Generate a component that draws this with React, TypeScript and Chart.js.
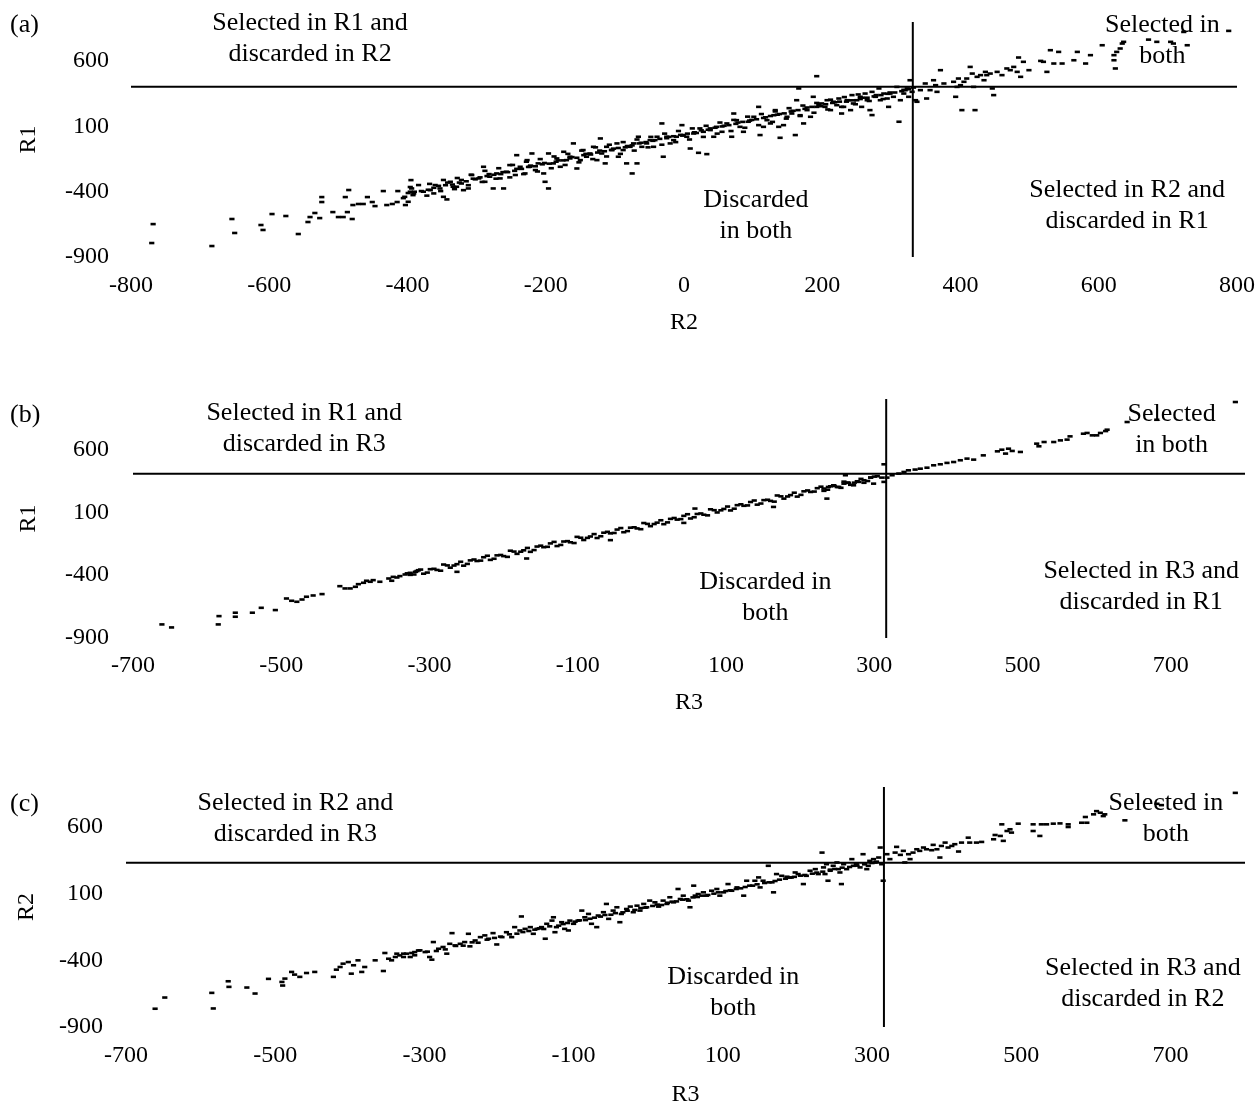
import React, { useEffect, useRef } from "react";
import { Chart, registerables } from "chart.js";

Chart.register(...registerables);

const FONT = '"Liberation Serif", "Times New Roman", Times, serif';

// Thresholds (cut-off lines)
const R1_CUT = 405;
const R2_CUT = 331;
const R3_CUT = 316;

// Tick labels
const xTicksA = [-800, -600, -400, -200, 0, 200, 400, 600, 800];
const xTicksBC = [-700, -500, -300, -100, 100, 300, 500, 700];
const yTicks = [-900, -400, 100, 600];

// Panel (a): [R2, R1]
const ptsA: [number, number][] = [
  [-768,-648],[-770,-793],[-683,-816],[-654,-609],[-650,-716],[-612,-655],[-609,-693],[-596,-571],[-576,-586],[-558,-724],
  [-544,-632],[-541,-594],[-534,-563],[-527,-602],[-524,-479],[-524,-441],[-508,-556],[-500,-594],[-493,-594],[-487,-556],
  [-480,-609],[-490,-441],[-485,-387],[-479,-502],[-471,-494],[-464,-494],[-458,-441],[-451,-479],[-447,-510],[-435,-395],
  [-430,-502],[-422,-494],[-415,-479],[-414,-395],[-406,-449],[-403,-502],[-399,-410],[-396,-364],[-392,-426],[-395,-311],
  [-404,-439],[-396,-400],[-394,-375],[-399,-477],[-391,-413],[-384,-349],[-377,-400],[-367,-388],[-362,-413],[-360,-349],
  [-353,-375],[-348,-439],[-343,-459],[-338,-324],[-334,-362],[-329,-362],[-322,-337],[-319,-388],[-312,-375],[-307,-272],
  [-297,-298],[-290,-209],[-288,-324],[-281,-285],[-276,-375],[-271,-260],[-266,-298],[-261,-375],[-257,-247],[-252,-196],
  [-244,-272],[-242,-120],[-237,-209],[-230,-260],[-227,-158],[-223,-209],[-220,-107],[-215,-234],[-211,-183],[-203,-260],
  [-201,-324],[-196,-375],[-196,-107],[-189,-183],[-184,-145],[-179,-209],[-174,-94],[-170,-158],[-165,-132],[-160,-30],
  [-155,-222],[-150,-158],[-146,-81],[-141,-132],[-136,-107],[-131,-56],[-126,-158],[-121,8],[-119,-107],[-114,-183],
  [-112,-56],[-104,-81],[-97,-30],[-95,-132],[-88,-81],[-83,-183],[-78,-56],[-75,-260],[-73,-30],[-68,-183],
  [-66,21],[-61,-56],[-54,-30],[-49,-5],[-44,-56],[-39,21],[-32,123],[-30,-132],[-25,21],[-20,-30],
  [-15,-5],[-11,21],[-3,110],[-1,34],[4,21],[9,-69],[14,46],[21,-102],[23,85],[28,59],
  [33,-112],[38,72],[43,21],[47,97],[55,59],[62,123],[69,21],[72,199],[76,148],[81,97],
  [86,59],[93,136],[101,174],[108,250],[110,34],[115,97],[120,148],[125,123],[130,186],[132,225],
  [137,97],[139,13],[144,110],[149,174],[156,199],[161,34],[163,301],[166,391],[168,186],[173,123],
  [178,225],[183,174],[187,327],[192,485],[192,250],
  [199,276],[204,250],[207,301],[212,225],[216,289],[221,263],[224,314],[228,199],[231,250],[236,301],
  [241,225],[243,340],[245,276],[250,301],[255,327],[257,250],[262,352],[265,301],[269,225],[272,187],
  [277,327],[282,391],[284,301],[289,352],[294,314],[296,250],[298,352],[303,327],[308,403],[311,136],
  [313,301],[318,352],[320,378],[323,391],[325,327],[327,454],[330,365],[332,398],[335,301],[337,289],
  [342,378],[349,429],[351,314],[356,378],[361,454],[364,416],[366,365],[371,531],[376,429],[390,442],
  [393,327],[395,403],[397,467],[400,416],[402,225],[405,442],[409,467],[414,556],[417,505],[419,403],
  [421,225],[424,480],[429,493],[434,454],[436,518],[438,493],[443,505],[446,391],[448,340],[453,518],
  [460,493],[467,544],[472,531],[477,556],[482,518],[484,628],[487,480],[491,595],[499,531],[516,602],
  [520,595],[525,518],[530,684],[535,582],[542,671],[547,582],[564,607],[569,671],[581,582],[588,646],
  [605,722],[622,646],[622,607],[624,544],[626,671],[631,697],[634,735],[636,748],[672,765],[684,748],
  [704,748],[708,735],[723,824],[728,722],[788,832],
  [-390,-400],[-380,-395],[-370,-385],[-355,-355],[-345,-350],[-335,-345],[-325,-330],[-315,-320],[-305,-300],[-295,-290],
  [-285,-280],[-275,-270],[-265,-265],[-255,-250],[-245,-240],[-235,-225],[-225,-210],[-215,-205],[-205,-190],[-195,-185],
  [-185,-170],[-175,-160],[-165,-145],[-155,-140],[-145,-120],[-135,-115],[-125,-100],[-115,-90],[-105,-80],[-95,-65],
  [-85,-60],[-75,-45],[-65,-30],[-55,-20],[-45,-10],[-35,5],[-25,10],[-15,25],[-5,35],[5,45],
  [15,55],[25,70],[35,75],[45,90],[55,100],[65,110],[75,120],[85,135],[95,145],[105,155],
  [115,165],[125,180],[135,190],[145,200],[155,215],[165,225],[175,235],[185,250],[195,265],[205,270],
  [215,280],[225,290],[235,290],[245,300],[255,310],[265,320],[275,330],[285,340],[295,350],[305,360],
  [315,370],[325,385],
  [-362,-370],[-342,-330],[-322,-310],[-302,-305],[-282,-265],[-262,-250],[-242,-225],[-222,-200],[-202,-180],[-182,-160],
  [-162,-135],[-142,-110],[-122,-85],[-102,-70],[-82,-50],[-62,-25],[-42,-5],[-22,20],[-2,30],[18,50],
  [38,85],[58,105],[78,130],[98,150],[118,170],[138,195],[158,220],[178,245],[198,255],[218,285],
  [238,300],[258,320],[278,340],[298,360],[318,380],
  [-372,-430],[-352,-395],[-332,-380],[-312,-350],[-292,-325],[-272,-300],[-252,-290],[-232,-265],[-212,-245],[-192,-220],
  [-172,-195],[-152,-175],[-132,-150],[-112,-130],[-92,-110],[-72,-85],[-52,-60],[-32,-40],[-12,-20],[8,0],
  [28,20],[48,45],[68,65],[88,90],[108,110],[128,135],[148,160],[168,180],[188,205],[208,230],
  [228,250],[248,270],[268,295],[288,310],
  [-368,-340],[-348,-310],[-328,-295],[-308,-270],[-288,-240],[-268,-220],[-248,-195],[-228,-170],[-208,-150],[-188,-130],
  [-168,-110],[-148,-85],[-128,-60],[-108,-40],[-88,-20],[-68,0],[-48,20],[-28,45],[-8,65],[12,85],
  [32,105],[52,130],[72,150],[92,175],[112,195],[132,215],[152,240],[172,260],[192,280],[212,305],
  [232,325],[252,345],[272,365],
];

// Panel (b): [R3, R1]
const ptsB: [number, number][] = [
  [-661,-792],[-648,-816],[-584,-726],[-585,-792],[-562,-699],[-562,-731],[-539,-699],[-527,-660],[-508,-678],[-493,-586],
  [-486,-604],[-479,-612],[-472,-594],[-466,-572],[-457,-562],[-445,-551],[-421,-488],[-414,-506],[-407,-506],[-400,-493],
  [-396,-472],[-389,-461],[-385,-445],[-380,-453],[-376,-440],[-367,-453],[-355,-427],[-351,-445],[-349,-414],[-344,-419],
  [-340,-408],[-333,-395],[-326,-382],[-319,-374],[-315,-361],
  [-330,-386],[-321,-395],[-312,-356],[-303,-380],[-294,-350],[-285,-365],[-276,-323],[-267,-324],[-258,-294],[-249,-311],
  [-240,-276],[-231,-285],[-222,-246],[-213,-270],[-204,-240],[-195,-255],[-186,-213],[-177,-214],[-168,-184],[-159,-201],
  [-150,-166],[-141,-175],[-132,-136],[-123,-160],[-114,-130],[-105,-145],[-96,-103],[-87,-104],[-78,-74],[-69,-91],
  [-60,-56],[-51,-65],[-42,-26],[-33,-50],[-24,-20],[-15,-35],[-6,7],[3,6],[12,36],[21,19],
  [30,54],[39,45],[48,84],[57,60],[66,90],[75,75],[84,116],[93,115],[102,145],[111,128],
  [120,163],[129,154],[138,193],[147,169],[156,199],[165,184],[174,226],[183,225],[192,255],[201,238],
  [210,273],[219,264],[228,303],[237,279],[246,309],[255,294],[264,336],[273,335],[282,365],[291,348],
  [300,383],
  [-326,-398],[-317,-368],[-308,-389],[-299,-353],[-290,-359],[-281,-316],[-272,-341],[-263,-313],[-254,-325],[-245,-283],
  [-236,-288],[-227,-258],[-218,-279],[-209,-243],[-200,-249],[-191,-206],[-182,-231],[-173,-203],[-164,-215],[-155,-173],
  [-146,-178],[-137,-148],[-128,-169],[-119,-133],[-110,-139],[-101,-96],[-92,-121],[-83,-93],[-74,-105],[-65,-63],
  [-56,-68],[-47,-38],[-38,-59],[-29,-23],[-20,-29],[-11,14],[-2,-11],[7,17],[16,5],[25,47],
  [34,41],[43,71],[52,50],[61,86],[70,80],[79,123],[88,98],[97,126],[106,114],[115,156],
  [124,151],[133,181],[142,160],[151,196],[160,190],[169,233],[178,208],[187,236],[196,224],[205,266],
  [214,261],[223,291],[232,270],[241,306],[250,300],[259,343],[268,318],[277,346],[286,334],[295,376],
  [-169,-268],[-263,-374],[-56,-122],[43,15],[164,142],[58,129],
  [232,288],[238,301],[245,314],[252,301],[259,327],[265,333],[272,314],[279,341],[286,354],[295,375],
  [299,327],[304,386],[310,375],[236,208],[261,394],[313,481],[313,341],[317,375],[324,394],[333,407],
  [340,420],[346,433],[355,439],[362,446],[371,454],[380,473],[389,481],[398,492],[407,499],[416,513],
  [425,526],[434,518],[447,552],[466,584],[472,597],[477,566],[481,605],[486,587],[497,579],[519,645],
  [522,624],[529,658],[542,658],[551,671],[560,677],[564,703],[582,724],[587,730],[594,711],[600,711],
  [605,730],[612,745],[614,756],[641,817],[681,835],[787,976],
];

// Panel (c): [R3, R2]
const ptsC: [number, number][] = [
  [-661,-763],[-648,-679],[-585,-644],[-583,-761],[-563,-557],[-562,-599],[-538,-604],[-527,-649],[-509,-539],[-491,-562],
  [-490,-589],[-487,-537],[-478,-487],[-474,-507],[-467,-524],[-458,-495],[-447,-487],[-422,-524],[-418,-470],[-413,-450],
  [-409,-425],[-402,-413],[-398,-500],[-395,-437],[-389,-400],[-384,-487],[-380,-450],[-366,-400],[-355,-480],[-353,-345],
  [-348,-388],[-344,-400],[-339,-375],[-337,-350],[-333,-363],[-328,-375],[-324,-350],[-317,-345],[-313,-338],[-308,-326],
  [-328,-350],[-319,-375],[-313,-362],[-306,-325],[-299,-338],[-293,-375],[-290,-395],[-288,-263],[-281,-313],[-275,-300],
  [-270,-350],[-266,-276],[-263,-196],[-259,-288],[-252,-276],[-246,-263],[-241,-201],[-239,-295],[-232,-251],[-225,-226],
  [-219,-213],[-214,-238],[-208,-196],[-203,-281],[-196,-226],[-190,-189],[-183,-226],[-179,-151],[-172,-176],[-170,-71],
  [-165,-164],[-158,-151],[-154,-201],[-149,-164],[-143,-151],[-138,-238],[-136,-126],[-129,-102],[-127,-77],[-125,-189],
  [-123,-151],[-116,-114],[-112,-164],[-107,-176],[-105,-102],[-100,-126],[-94,-102],[-89,-27],[-85,-77],[-80,-52],
  [-76,-126],[-69,-151],[-67,-64],[-60,-39],[-56,23],[-53,-89],[-47,-27],[-42,-2],[-38,-114],[-36,-52],
  [-29,-15],[-24,3],[-20,-39],[-15,10],[-11,-27],[-6,23],[-2,-2],[2,48],[9,35],[14,3],
  [20,48],[25,23],[29,73],[34,35],[40,135],[43,60],[47,85],[54,48],[56,-2],[61,160],
  [63,85],[67,97],[74,110],[78,85],[85,122],[92,135],[96,85],[101,110],[107,172],[112,122],
  [119,147],[128,85],[132,197],[136,160],[143,197],[148,222],[150,147],[154,197],[161,309],[166,185],
  [168,110],[172,247],[179,234],[186,227],[192,222],[197,259],[201,247],[208,172],[212,234],[217,272],
  [224,284],[228,247],
  [-296,-335],[-284,-330],[-272,-318],[-258,-292],[-248,-290],[-236,-265],[-228,-268],[-216,-245],[-206,-232],[-198,-222],
  [-186,-205],[-176,-200],[-168,-188],[-160,-180],[-152,-170],[-146,-160],[-140,-165],[-132,-145],[-120,-140],[-114,-128],
  [-108,-120],[-98,-110],[-92,-100],[-84,-98],[-78,-88],[-72,-80],[-64,-72],[-58,-60],[-50,-58],[-44,-46],
  [-34,-40],[-28,-28],[-18,-22],[-10,-8],[-4,-5],[6,8],[12,18],[18,15],[26,32],[32,40],
  [38,42],[46,55],[52,58],[60,72],[66,75],[72,85],[80,90],[88,100],[94,110],[104,120],
  [110,125],[118,135],[124,140],[130,150],[140,160],[146,170],[156,180],[162,185],[170,195],[176,205],
  [184,212],[190,220],[196,226],[204,235],[210,240],[220,250],[226,258],[234,265],[244,280],[250,285],
  [260,295],[270,300],[280,310],[290,320],[300,330],[306,340],
  [233,408],[235,297],[237,247],[239,321],[241,197],[244,272],[248,309],[253,334],[255,284],[257,259],
  [259,172],[262,321],[266,284],[273,359],[275,309],[279,321],[284,297],[288,396],[293,284],[295,309],
  [297,346],[302,359],[304,334],[309,371],[311,446],[313,321],[315,197],[320,396],[324,359],[331,408],
  [333,451],[338,391],[342,421],[344,334],[349,396],[351,359],[355,408],[360,433],[364,421],[369,446],
  [373,433],[380,426],[382,466],[387,433],[391,371],[393,458],[398,483],[402,446],[407,458],[411,471],
  [416,416],[420,483],[429,520],[431,483],[440,483],[447,488],[463,508],[465,540],[472,533],[474,620],
  [476,496],[481,570],[485,583],[487,558],[496,625],[516,620],[516,570],[525,533],[527,620],[534,620],
  [543,625],[552,627],[563,620],[563,600],[581,632],[586,675],[588,632],[597,695],[601,719],[606,707],
  [610,682],[612,695],[639,650],[682,774],[688,764],[787,856],
];

type Note = { lines: string[]; x: number; y: number };

const notesA: Note[] = [
  { lines: ["Selected in R1 and", "discarded in R2"], x: -541, y: 770 },
  { lines: ["Selected in", "both"], x: 692, y: 757 },
  { lines: ["Discarded", "in both"], x: 104, y: -582 },
  { lines: ["Selected in R2 and", "discarded in R1"], x: 641, y: -506 },
];
const notesB: Note[] = [
  { lines: ["Selected in R1 and", "discarded in R3"], x: -469, y: 767 },
  { lines: ["Selected", "in both"], x: 701, y: 759 },
  { lines: ["Discarded in", "both"], x: 153, y: -579 },
  { lines: ["Selected in R3 and", "discarded in R1"], x: 660, y: -495 },
];
const notesC: Note[] = [
  { lines: ["Selected in R2 and", "discarded in R3"], x: -473, y: 663 },
  { lines: ["Selected in", "both"], x: 694, y: 663 },
  { lines: ["Discarded in", "both"], x: 114, y: -643 },
  { lines: ["Selected in R3 and", "discarded in R2"], x: 663, y: -572 },
];

interface PanelSpec {
  top: number;
  height: number;
  points: [number, number][];
  xMin: number; xMax: number; yMin: number; yMax: number;
  xTicks: number[];
  xTitle: string; yTitle: string;
  hCut: number; vCut: number;
  label: string; labelY: number;
  notes: Note[];
  padding: { top: number; bottom: number; left: number; right: number };
  yWidth: number; xHeight: number;
  yTickPad: number; xTickPad: number; yTitlePad: number; xTitlePad: number;
}

const panels: PanelSpec[] = [
  {
    top: 0, height: 340, points: ptsA,
    xMin: -800, xMax: 800, yMin: -900, yMax: 900, xTicks: xTicksA,
    xTitle: "R2", yTitle: "R1", hCut: R1_CUT, vCut: R2_CUT,
    label: "(a)", labelY: 25, notes: notesA,
    padding: { top: 22, bottom: 3, left: 0, right: 19 },
    yWidth: 131, xHeight: 80, yTickPad: 22, xTickPad: 14, yTitlePad: 14, xTitlePad: 0,
  },
  {
    top: 360, height: 360, points: ptsB,
    xMin: -700, xMax: 800, yMin: -900, yMax: 1000, xTicks: xTicksBC,
    xTitle: "R3", yTitle: "R1", hCut: R1_CUT, vCut: R3_CUT,
    label: "(b)", labelY: 55, notes: notesB,
    padding: { top: 39, bottom: 2, left: 0, right: 11 },
    yWidth: 133, xHeight: 80, yTickPad: 24, xTickPad: 13, yTitlePad: 14, xTitlePad: 1,
  },
  {
    top: 750, height: 362, points: ptsC,
    xMin: -700, xMax: 800, yMin: -900, yMax: 900, xTicks: xTicksBC,
    xTitle: "R3", yTitle: "R2", hCut: R2_CUT, vCut: R3_CUT,
    label: "(c)", labelY: 54, notes: notesC,
    padding: { top: 37, bottom: 3, left: 0, right: 11 },
    yWidth: 126, xHeight: 82, yTickPad: 23, xTickPad: 14, yTitlePad: 12, xTitlePad: 0,
  },
];

const notesPlugin = {
  id: "notes",
  afterDatasetsDraw(chart: any, _args: any, opts: any) {
    const { ctx } = chart;
    const xs = chart.scales.x;
    const ys = chart.scales.y;
    ctx.save();
    ctx.fillStyle = "#000";
    ctx.font = `26px ${FONT}`;
    ctx.textAlign = "center";
    ctx.textBaseline = "middle";
    const lh = 31;
    for (const n of opts.notes as Note[]) {
      const cx = xs.getPixelForValue(n.x);
      const cy = ys.getPixelForValue(n.y);
      const y0 = cy - ((n.lines.length - 1) * lh) / 2;
      n.lines.forEach((t, i) => ctx.fillText(t, cx, y0 + i * lh));
    }
    ctx.textAlign = "left";
    ctx.fillText(opts.label, 10, opts.labelY);
    ctx.restore();
  },
};

function Panel({ spec }: { spec: PanelSpec }) {
  const ref = useRef<HTMLCanvasElement>(null);
  useEffect(() => {
    const tickFont = { family: FONT, size: 24 };
    const chart = new Chart(ref.current as HTMLCanvasElement, {
      type: "scatter",
      data: {
        datasets: [
          {
            data: spec.points.map(([x, y]) => ({ x, y })),
            pointStyle: "line",
            pointRadius: 2.6,
            pointHoverRadius: 2.6,
            pointBorderWidth: 2.6,
            borderColor: "#000",
            backgroundColor: "#000",
          } as any,
          {
            data: [{ x: spec.xMin, y: spec.hCut }, { x: spec.xMax, y: spec.hCut }],
            showLine: true,
            borderColor: "#000",
            borderWidth: 2,
            pointRadius: 0,
          } as any,
          {
            data: [{ x: spec.vCut, y: spec.yMin }, { x: spec.vCut, y: spec.yMax }],
            showLine: true,
            borderColor: "#000",
            borderWidth: 2,
            pointRadius: 0,
          } as any,
        ],
      },
      options: {
        responsive: true,
        maintainAspectRatio: false,
        animation: false,
        events: [],
        layout: { padding: spec.padding },
        plugins: {
          legend: { display: false },
          tooltip: { enabled: false },
          notes: { notes: spec.notes, label: spec.label, labelY: spec.labelY },
        } as any,
        scales: {
          x: {
            type: "linear",
            position: "bottom",
            min: spec.xMin,
            max: spec.xMax,
            grid: { display: false, drawTicks: false },
            border: { display: false },
            ticks: {
              padding: spec.xTickPad,
              color: "#000",
              font: tickFont,
              maxRotation: 0,
              autoSkip: false,
              callback: (v: any) => String(v),
            },
            afterBuildTicks: (s: any) => {
              s.ticks = spec.xTicks.map((v) => ({ value: v }));
            },
            afterFit: (s: any) => {
              s.height = spec.xHeight;
              s.paddingLeft = 0;
              s.paddingRight = 0;
            },
            title: {
              display: true,
              text: spec.xTitle,
              color: "#000",
              font: tickFont,
              padding: { top: 0, bottom: spec.xTitlePad },
            },
          },
          y: {
            type: "linear",
            position: "left",
            min: spec.yMin,
            max: spec.yMax,
            grid: { display: false, drawTicks: false },
            border: { display: false },
            ticks: {
              padding: spec.yTickPad,
              color: "#000",
              font: tickFont,
              autoSkip: false,
              callback: (v: any) => String(v),
            },
            afterBuildTicks: (s: any) => {
              s.ticks = yTicks.map((v) => ({ value: v }));
            },
            afterFit: (s: any) => {
              s.width = spec.yWidth;
              s.paddingTop = 0;
              s.paddingBottom = 0;
            },
            title: {
              display: true,
              text: spec.yTitle,
              color: "#000",
              font: tickFont,
              padding: { top: spec.yTitlePad, bottom: 0 },
            },
          },
        } as any,
      },
      plugins: [notesPlugin as any],
    });
    return () => chart.destroy();
  }, [spec]);
  return (
    <div style={{ position: "absolute", left: 0, top: spec.top, width: 1256, height: spec.height }}>
      <canvas ref={ref} />
    </div>
  );
}

export default function App() {
  return (
    <div
      style={{
        position: "absolute",
        left: 0,
        top: 0,
        width: 1256,
        height: 1101,
        overflow: "hidden",
        background: "#fff",
      }}
    >
      {panels.map((p) => (
        <Panel key={p.label} spec={p} />
      ))}
    </div>
  );
}
